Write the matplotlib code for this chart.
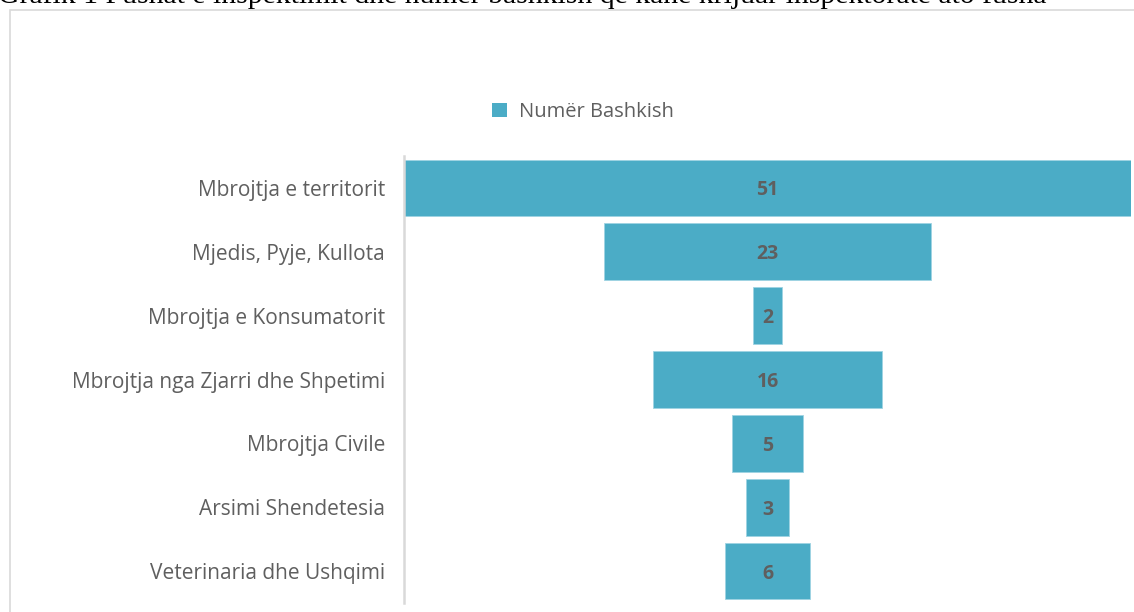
import matplotlib

matplotlib.use("Agg")

import matplotlib.pyplot as plt
from matplotlib.patches import Rectangle, Patch
import numpy as np

CATEGORIES = [
    "Mbrojtja e territorit",
    "Mjedis, Pyje, Kullota",
    "Mbrojtja e Konsumatorit",
    "Mbrojtja nga Zjarri dhe Shpetimi",
    "Mbrojtja Civile",
    "Arsimi Shendetesia",
    "Veterinaria dhe Ushqimi",
]
VALUES = [51, 23, 2, 16, 5, 3, 6]
SERIES_NAME = "Numër Bashkish"
TITLE = "Grafik 1 Fushat e inspektimit dhe numer bashkish qe kane krijuar inspektorate ato fusha"

BAR_COLOR = "#4BACC6"
TEXT_GRAY = "#5f5f5f"
LINE_GRAY = "#D9D9D9"

W, H = 1134, 612
fig = plt.figure(figsize=(W / 100, H / 100), dpi=100)
fig.patch.set_facecolor("white")

# chart frame (right and bottom run off the picture)
fig.patches.append(
    Rectangle((10 / W, -0.1), 1.2, 1.1 - 10 / H, transform=fig.transFigure,
              facecolor="white", edgecolor=LINE_GRAY, linewidth=1.2, zorder=-5)
)

fig.text(-2 / W, 1 - 3 / H, TITLE, family="Liberation Serif", fontsize=21.4,
         color="black", ha="left", va="baseline")

ax = fig.add_axes([404 / W, 1 - 603 / H, 727 / W, 447 / H])
ax.set_facecolor("none")

vals = np.array(VALUES, dtype=float)
y = np.arange(len(CATEGORIES))
half = vals.max() / 2
ax.barh(y, vals, left=-vals / 2, height=0.89, color=BAR_COLOR,
        edgecolor="#9fd3e2", linewidth=0.6)
for yi, v in zip(y, VALUES):
    ax.text(0, yi, str(v), ha="center", va="center_baseline", fontsize=14,
            fontweight="bold", color=TEXT_GRAY, family="Open Sans")

ax.set_xlim(-half, half)
ax.set_ylim(len(CATEGORIES) - 0.5, -0.5)
ax.set_yticks(y)
ax.set_yticklabels(CATEGORIES, family="Open Sans", fontsize=15, color=TEXT_GRAY)
ax.tick_params(axis="y", length=0, pad=13.7)
ax.set_xticks([])
ax.spines[["top", "right", "bottom"]].set_visible(False)
ax.spines["left"].set_color(LINE_GRAY)
ax.spines["left"].set_linewidth(1.8)

fig.legend(handles=[Patch(facecolor=BAR_COLOR, label=SERIES_NAME)],
           loc="center", bbox_to_anchor=(583 / W, 1 - 112 / H), frameon=False,
           prop={"family": "Open Sans", "size": 14.5}, labelcolor=TEXT_GRAY,
           handlelength=0.75, handleheight=0.75, handletextpad=0.6)

fig.savefig("out.png", dpi=100)
